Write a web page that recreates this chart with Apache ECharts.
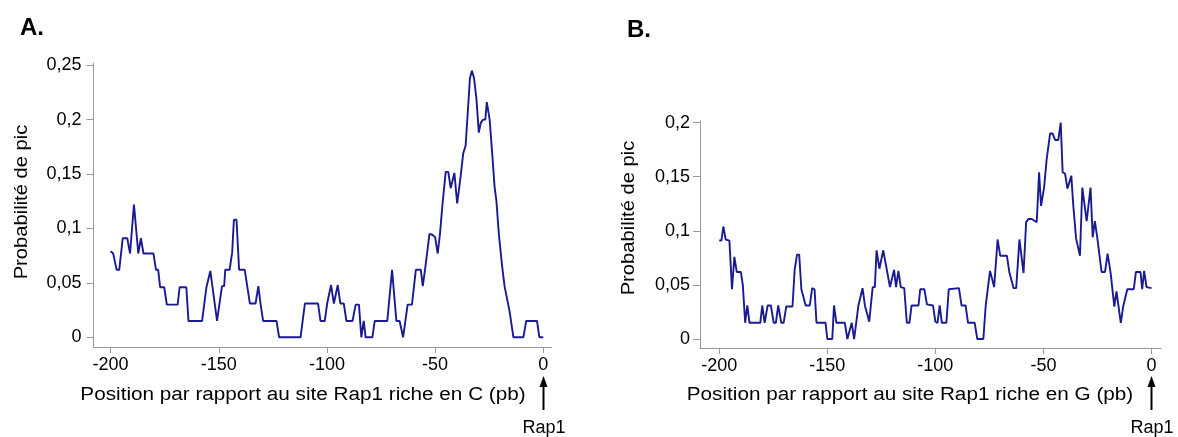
<!DOCTYPE html>
<html>
<head>
<meta charset="utf-8">
<title>Probabilité de pic</title>
<script src="https://cdn.jsdelivr.net/npm/echarts@6/dist/echarts.min.js"></script>
<style>
  html, body { margin: 0; padding: 0; background: #fff; }
  #chart { width: 1178px; height: 437px; }
</style>
</head>
<body>
<div id="chart"></div>
<script>
// panel A : site Rap1 riche en C
const posA = [-200, -198.8, -198, -197.2, -196, -194.4, -192.3, -191, -189.2, -187.2, -186, -184.8, -180.2, -179, -178,
  -177.1, -175.2, -174, -169, -168.1, -165, -164, -157.7, -155.7, -154.9, -153.9, -150.8, -148.5, -147.5, -147, -145,
  -143.8, -143, -141.8, -140.6, -138, -135.6, -133, -131.7, -130.7, -129.5, -123.3, -122.1, -112.2, -110.2, -104.1,
  -103, -101, -99.9, -99.2, -98.1, -96.8, -95, -93.8, -92.2, -91, -88.2, -86.7, -85.2, -84.1, -83, -82.1, -79, -77.9,
  -72.1, -69.9, -67.9, -66.4, -64.8, -62.7, -60.7, -58.9, -56.6, -55.7, -54.6, -53.8, -52.6, -51.1, -50, -48.8, -47.7,
  -46.6, -45.1, -43.9, -42.8, -41.9, -41.1, -39.8, -38.5, -37, -35.9, -34.7, -33.9, -33, -32, -30.9, -29.8, -28.9,
  -27.8, -26.8, -26.1, -24.8, -23.5, -22.5, -21.7, -20.5, -19, -17.9, -17.1, -15.6, -13.8, -9.2, -7.9, -2.9, -1.8, 0];
const valA = [0.079, 0.077, 0.076, 0.062, 0.062, 0.091, 0.091, 0.077, 0.122, 0.077, 0.091, 0.077, 0.077, 0.062, 0.062,
  0.046, 0.046, 0.030, 0.030, 0.046, 0.046, 0.015, 0.015, 0.046, 0.046, 0.061, 0.015, 0.047, 0.047, 0.062, 0.062,
  0.078, 0.108, 0.108, 0.062, 0.062, 0.031, 0.031, 0.047, 0.031, 0.015, 0.015, 0, 0, 0.031, 0.031,
  0.015, 0.015, 0.031, 0.032, 0.048, 0.031, 0.048, 0.031, 0.031, 0.015, 0.015, 0.030, 0.030, 0, 0.015, 0, 0, 0.015,
  0.015, 0.062, 0.015, 0.015, 0, 0.030, 0.030, 0.062, 0.062, 0.047, 0.063, 0.063, 0.095, 0.094, 0.092, 0.077, 0.096,
  0.122, 0.152, 0.152, 0.137, 0.137, 0.151, 0.123, 0.143, 0.169, 0.176, 0.213, 0.238, 0.245, 0.238, 0.219, 0.188, 0.197,
  0.200, 0.200, 0.216, 0.200, 0.166, 0.138, 0.126, 0.094, 0.065, 0.047, 0.046, 0.024, 0, 0, 0.015, 0.015, 0, 0];

// panel B : site Rap1 riche en G
const posB = [-200, -199, -198.1, -197, -195.3, -194.1, -193, -191.9, -190, -189.1, -188, -187, -186, -181, -180.1, -179,
  -177.6, -176.1, -174.8, -173.8, -172.7, -171.3, -170.2, -169, -166.1, -165.1, -164, -163, -162, -161.2, -160, -158.1,
  -157, -155.9, -155, -150.8, -150, -147.7, -146.9, -145.8, -141.9, -140.7, -139.8, -138.7, -137.6, -136.3, -135.6,
  -134.8, -133.7, -132.6, -131.8, -130.6, -129, -128, -127.2, -125.9, -125.1, -124.1, -123.3, -121, -120.2, -119.1,
  -118.2, -117.1, -116, -114.4, -113.2, -112, -111, -107.8, -107, -105.1, -103.9, -101.1, -100, -99, -98, -97, -94.9,
  -93.8, -89.1, -87.9, -86, -84.9, -81.8, -80.6, -77.8, -76.7, -74.7, -72.8, -71.2, -70, -66.9, -65.8, -64.9, -63.8,
  -62.6, -61.1, -59.2, -58, -56.9, -55.4, -53.1, -52, -51.1, -49.7, -48.5, -46.9, -45.8, -44.6, -43.1, -42, -41.1, -40,
  -38.9, -38, -37.1, -36.2, -34.9, -34.2, -33.1, -32, -30, -28.2, -27.2, -26.2, -25.1, -24.2, -23.1, -21.5, -20.3,
  -18.9, -17.2, -16.2, -15.5, -14.2, -13.1, -12.2, -11.2, -8.2, -7.2, -5.1, -4.3, -3.4, -2.3, 0];
const valB = [0.091, 0.091, 0.104, 0.092, 0.091, 0.046, 0.076, 0.062, 0.062, 0.050, 0.015, 0.031, 0.015, 0.015, 0.031, 0.015,
  0.031, 0.031, 0.015, 0.015, 0.031, 0.015, 0.015, 0.030, 0.030, 0.064, 0.078, 0.078, 0.046, 0.046, 0.031, 0.031,
  0.047, 0.046, 0.015, 0.015, 0, 0, 0.031, 0.015, 0.015, 0, 0, 0.015, 0, 0.020, 0.031,
  0.031, 0.047, 0.031, 0.031, 0.016, 0.048, 0.048, 0.082, 0.065, 0.065, 0.082, 0.082, 0.048, 0.048, 0.064,
  0.048, 0.063, 0.048, 0.047, 0.015, 0.015, 0.031, 0.031, 0.046, 0.046, 0.032, 0.031, 0.016, 0.015, 0.031, 0.015, 0.015,
  0.046, 0.047, 0.031, 0.031, 0.015, 0.015, 0, 0, 0.031, 0.063, 0.048, 0.092, 0.077, 0.077, 0.062, 0.062, 0.047,
  0.047, 0.092, 0.061, 0.108, 0.111, 0.111, 0.108, 0.154, 0.123, 0.140, 0.166, 0.190, 0.190, 0.184, 0.184, 0.200, 0.154, 0.153,
  0.139, 0.139, 0.151, 0.124, 0.093, 0.092, 0.077, 0.140, 0.109, 0.140, 0.094, 0.109, 0.094, 0.093, 0.062, 0.062, 0.079,
  0.061, 0.030, 0.044, 0.044, 0.015, 0.030, 0.031, 0.046, 0.046, 0.062, 0.062, 0.046, 0.063, 0.048, 0.047];

const xTicks = [-200, -150, -100, -50, 0];
const yTicksA = [0, 0.05, 0.1, 0.15, 0.2, 0.25];
const yTicksB = [0, 0.05, 0.1, 0.15, 0.2];

const font = 'Liberation Sans, Arial, sans-serif';
const axisGrey = '#9a9a9a';
const lineColor = '#1a1a92';

function comma(v) {
    return String(v).replace('.', ',');
}

function xAxisOf(gridIndex, min, max) {
    return {
        type: 'value', gridIndex: gridIndex, min: min, max: max,
        splitLine: { show: false },
        axisLine: { onZero: false, lineStyle: { color: axisGrey, width: 1 } },
        axisTick: { customValues: xTicks, length: 6, lineStyle: { color: axisGrey } },
        axisLabel: { customValues: xTicks, color: '#000', fontSize: 18, fontFamily: font, margin: 9 }
    };
}

function yAxisOf(gridIndex, min, max, ticks, margin) {
    return {
        type: 'value', gridIndex: gridIndex, min: min, max: max,
        splitLine: { show: false },
        axisLine: { show: true, onZero: false, lineStyle: { color: axisGrey, width: 1 } },
        axisTick: { show: true, customValues: ticks, length: 7, lineStyle: { color: axisGrey } },
        axisLabel: { customValues: ticks, color: '#000', fontSize: 18, fontFamily: font, margin: margin, formatter: comma }
    };
}

function text(x, y, str, opts) {
    return Object.assign({
        type: 'text', x: x, y: y, scaleX: 1.15,
        style: { text: str, fill: '#000', font: '18px ' + font, align: 'center', verticalAlign: 'middle' }
    }, opts || {});
}

function arrow(x) {
    return [
        { type: 'line', shape: { x1: x, y1: 410, x2: x, y2: 384 }, style: { stroke: '#000', lineWidth: 2 } },
        { type: 'polygon', shape: { points: [[x - 4, 387], [x + 4, 387], [x, 376]] }, style: { fill: '#000' } }
    ];
}

const chart = echarts.init(document.getElementById('chart'), null, { renderer: 'canvas' });

chart.setOption({
    backgroundColor: '#fff',
    animation: false,
    grid: [
        { left: 93.5, top: 63, width: 458, height: 284 },
        { left: 700, top: 120.7, width: 461, height: 227.3 }
    ],
    xAxis: [xAxisOf(0, -207.9, 3.8), xAxisOf(1, -208.9, 4.4)],
    yAxis: [yAxisOf(0, -0.0089, 0.252, yTicksA, 12), yAxisOf(1, -0.0083, 0.2018, yTicksB, 10)],
    series: [
        {
            type: 'line', xAxisIndex: 0, yAxisIndex: 0, showSymbol: false,
            lineStyle: { color: lineColor, width: 1.9 },
            data: posA.map((p, i) => [p, valA[i]])
        },
        {
            type: 'line', xAxisIndex: 1, yAxisIndex: 1, showSymbol: false,
            lineStyle: { color: lineColor, width: 1.9 },
            data: posB.map((p, i) => [p, valB[i]])
        }
    ],
    graphic: [
        text(32, 28, 'A.', { scaleX: 1, style: { text: 'A.', fill: '#000', font: 'bold 24px ' + font, align: 'center', verticalAlign: 'middle' } }),
        text(639, 30, 'B.', { scaleX: 1, style: { text: 'B.', fill: '#000', font: 'bold 24px ' + font, align: 'center', verticalAlign: 'middle' } }),
        text(303, 395, 'Position par rapport au site Rap1 riche en C (pb)'),
        text(910, 395, 'Position par rapport au site Rap1 riche en G (pb)'),
        text(22, 202, 'Probabilité de pic', { rotation: Math.PI / 2, scaleX: 1.12 }),
        text(629, 218, 'Probabilité de pic', { rotation: Math.PI / 2, scaleX: 1.12 }),
        text(544, 428, 'Rap1', { scaleX: 1 }),
        text(1152, 428, 'Rap1', { scaleX: 1 }),
        ...arrow(543.5),
        ...arrow(1151.5)
    ]
});
</script>
</body>
</html>
